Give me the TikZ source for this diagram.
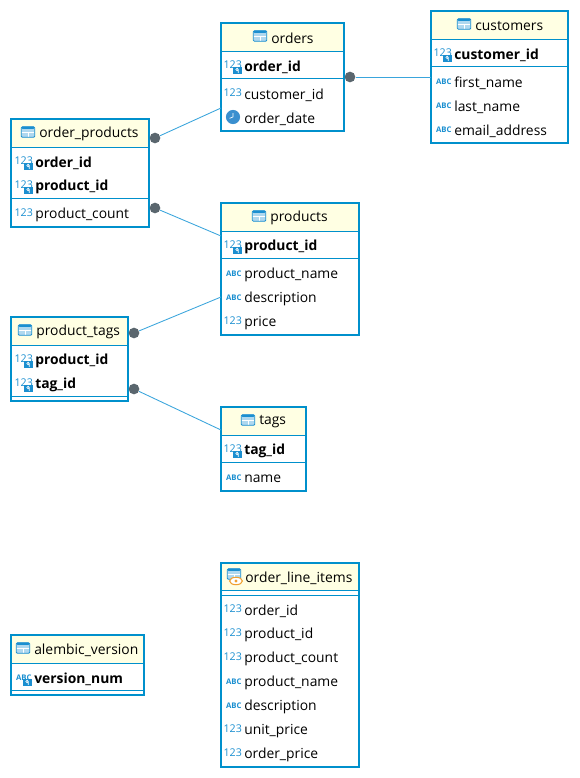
\documentclass[tikz,border=0pt]{standalone}
\usepackage{fontspec}
\setmainfont{Open Sans}
\usetikzlibrary{positioning,fit,calc,shapes.geometric}

\definecolor{tableblue}{HTML}{0090CC}
\definecolor{relblue}{HTML}{3AA5DC}
\definecolor{headyellow}{HTML}{FFFFE3}
\definecolor{dotgrey}{HTML}{5A666E}
\definecolor{iconblue}{HTML}{1B8FD0}
\definecolor{clockblue}{HTML}{3A8FCF}
\definecolor{iconorange}{HTML}{F0A030}

% name, left, top, right, bottom, header bottom
\newcommand{\dbtable}[6]{
    \coordinate (#1nw) at (#2,#3);
    \coordinate (#1se) at (#4,#5);
    \coordinate (#1hd) at (#4,#6);
    \node[tablehead, fit=(#1nw)(#1hd)] (#1head) {};
    \node[tablebox, fit=(#1nw)(#1se)] (#1) {};
}
\newcommand{\rowrule}[2]{\draw[rulerow] (#1.west |- 0,#2) -- (#1.east |- 0,#2);}

\begin{document}
\begin{tikzpicture}[
        x=0.75pt, y=-0.75pt,
        every node/.style={font=\fontsize{10.4}{12}\selectfont, text=black},
        tablebox/.style={draw=tableblue, line width=1.5pt, inner sep=0pt},
        tablehead/.style={fill=headyellow, inner sep=0pt},
        rulerow/.style={draw=tableblue, line width=0.7pt},
        rel/.style={draw=relblue, line width=0.65pt},
        reldot/.style={circle, fill=dotgrey, minimum size=8pt, inner sep=0pt},
        title/.style={anchor=west, inner sep=0pt, yshift=-0.75pt},
        colname/.style={anchor=west, inner sep=0pt, yshift=-0.75pt},
        typetag/.style={font=\fontsize{8}{9}\selectfont, text=iconblue, inner sep=0pt, yshift=1.6pt},
        abctag/.style={font=\fontsize{5.8}{6}\selectfont\bfseries, text=iconblue, inner sep=0pt, yshift=1.2pt},
        numcol/.style={colname, label={[typetag, label distance=1.4pt]left:123}},
        abccol/.style={colname, label={[abctag, label distance=1.6pt]left:ABC}},
        keybadge/.style={fill=iconblue, minimum width=6.4pt, minimum height=5.8pt, inner sep=0pt,
                         path picture={\draw[white, line width=0.5pt]
                            ([shift={(-0.2pt,0.8pt)}]path picture bounding box.center) circle (0.9pt)
                            ([shift={(0.7pt,0.6pt)}]path picture bounding box.center) -- ++(0pt,-2.4pt);}},
        numkey/.style={numcol, font=\fontsize{10.4}{12}\selectfont\bfseries,
                       label={[keybadge, xshift=-1.6pt, yshift=-2.6pt]left:}},
        abckey/.style={abccol, font=\fontsize{10.4}{12}\selectfont\bfseries,
                       label={[keybadge, xshift=-1.6pt, yshift=-2.6pt]left:}},
        tableicon/.style={draw=iconblue, fill=iconblue!35, rounded corners=0.8pt, line width=0.6pt,
                          minimum width=10pt, minimum height=8pt, inner sep=0pt,
                          path picture={
                            \fill[iconblue] (path picture bounding box.north west) rectangle
                                ([yshift=2.4pt]path picture bounding box.north east |- path picture bounding box.center);
                            \draw[white, line width=0.5pt]
                                (path picture bounding box.west) -- (path picture bounding box.east)
                                (path picture bounding box.center) -- (path picture bounding box.south);}},
        clockicon/.style={circle, fill=clockblue, minimum size=10.6pt, inner sep=0pt,
                          path picture={\draw[white, line width=0.5pt]
                            (path picture bounding box.center) -- ++(0pt,3pt)
                            (path picture bounding box.center) -- ++(-2.6pt,-1pt);}},
        eyeicon/.style={ellipse, draw=iconorange, line width=0.8pt, fill=white, minimum width=9.6pt, minimum height=5.6pt, inner sep=0pt,
                        path picture={\fill[iconorange] (path picture bounding box.center) circle (1.3pt);}}
    ]
    \useasboundingbox (0,0) rectangle (579,778);

    \dbtable{orders}{221}{23}{344}{131}{51}
    \dbtable{customers}{431}{11}{568}{143}{39}
    \dbtable{orderproducts}{11}{119}{149}{227}{147}
    \dbtable{products}{221}{203}{359}{335}{231}
    \dbtable{producttags}{11}{317}{128}{401}{345}
    \dbtable{tags}{221}{407}{306}{491}{435}
    \dbtable{lineitems}{221}{563}{359}{767}{591}
    \dbtable{alembic}{11}{635}{144}{695}{663}

    \rowrule{orders}{51} \rowrule{orders}{78}
    \rowrule{customers}{39} \rowrule{customers}{66}
    \rowrule{orderproducts}{147} \rowrule{orderproducts}{198}
    \rowrule{products}{231} \rowrule{products}{258}
    \rowrule{producttags}{345} \rowrule{producttags}{396}
    \rowrule{tags}{435} \rowrule{tags}{462}
    \rowrule{lineitems}{590} \rowrule{lineitems}{595}
    \rowrule{alembic}{663} \rowrule{alembic}{690}

    % titles
    \node[tableicon] (ordersicon) at (260,36) {};
    \node[title] (orderstitle) at (271,37) {orders};
    \node[tableicon] (customersicon) at (464,24) {};
    \node[title] (customerstitle) at (475,25) {customers};
    \node[tableicon] (orderproductsicon) at (28,132) {};
    \node[title] (orderproductstitle) at (39,133) {order\_products};
    \node[tableicon] (productsicon) at (259,216) {};
    \node[title] (productstitle) at (270,217) {products};
    \node[tableicon] (producttagsicon) at (25,330) {};
    \node[title] (producttagstitle) at (36,331) {product\_tags};
    \node[tableicon] (tagsicon) at (248,420) {};
    \node[title] (tagstitle) at (259,421) {tags};
    \node[tableicon] (lineitemsicon) at (234,574) {};
    \node[eyeicon] (lineitemseye) at (236,581) {};
    \node[title] (lineitemstitle) at (245,577) {order\_line\_items};
    \node[tableicon] (alembicicon) at (23,648) {};
    \node[title] (alembictitle) at (34,649) {alembic\_version};

    % columns
    \node[numkey] (ordersid) at (244,66) {order\_id};
    \node[numcol] (orderscustomer) at (244,94) {customer\_id};
    \node[colname] (ordersdate) at (244,118) {order\_date};
    \node[clockicon] (ordersclock) at (233,117) {};

    \node[numkey] (customersid) at (454,54) {customer\_id};
    \node[abccol] (customersfirst) at (454,82) {first\_name};
    \node[abccol] (customerslast) at (454,106) {last\_name};
    \node[abccol] (customersemail) at (454,130) {email\_address};

    \node[numkey] (orderproductsorder) at (35,162) {order\_id};
    \node[numkey] (orderproductsproduct) at (35,186) {product\_id};
    \node[numcol] (orderproductscount) at (35,214) {product\_count};

    \node[numkey] (productsid) at (244,246) {product\_id};
    \node[abccol] (productsname) at (244,274) {product\_name};
    \node[abccol] (productsdesc) at (244,298) {description};
    \node[numcol] (productsprice) at (244,322) {price};

    \node[numkey] (producttagsproduct) at (35,360) {product\_id};
    \node[numkey] (producttagstag) at (35,384) {tag\_id};

    \node[numkey] (tagsid) at (244,450) {tag\_id};
    \node[abccol] (tagsname) at (244,478) {name};

    \node[numcol] (lineitemsorder) at (244,610) {order\_id};
    \node[numcol] (lineitemsproduct) at (244,634) {product\_id};
    \node[numcol] (lineitemscount) at (244,658) {product\_count};
    \node[abccol] (lineitemsname) at (244,682) {product\_name};
    \node[abccol] (lineitemsdesc) at (244,706) {description};
    \node[numcol] (lineitemsunit) at (244,730) {unit\_price};
    \node[numcol] (lineitemsprice) at (244,754) {order\_price};

    \node[abckey] (alembicnum) at (34,678) {version\_num};

    % relations
    \node[reldot] (ordersdot) at (350,77) {};
    \node[reldot] (opdottop) at (155,138) {};
    \node[reldot] (opdotbottom) at (155,208) {};
    \node[reldot] (ptdottop) at (134,333) {};
    \node[reldot] (ptdotbottom) at (134,389) {};
    \coordinate (customersin) at (431,77);
    \coordinate (ordersin) at (221,108);
    \coordinate (productsintop) at (221,236);
    \coordinate (productsinbottom) at (221,297);
    \coordinate (tagsin) at (221,430);

    \draw[rel] (ordersdot) -- (customersin);
    \draw[rel] (opdottop) -- (ordersin);
    \draw[rel] (opdotbottom) -- (productsintop);
    \draw[rel] (ptdottop) -- (productsinbottom);
    \draw[rel] (ptdotbottom) -- (tagsin);
\end{tikzpicture}
\end{document}
